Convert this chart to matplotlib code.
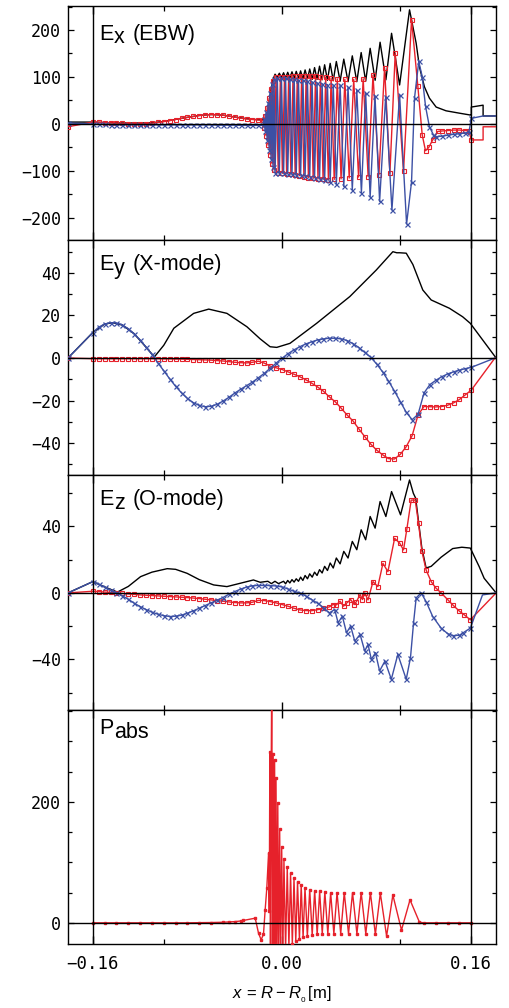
import numpy as np
import matplotlib
matplotlib.use("Agg")
import matplotlib.pyplot as plt
from matplotlib.ticker import FixedLocator, MultipleLocator

plt.rcParams['font.family'] = ['Liberation Sans', 'DejaVu Sans']
plt.rcParams['mathtext.fontset'] = 'custom'
plt.rcParams['mathtext.rm'] = 'Liberation Sans'
plt.rcParams['mathtext.it'] = 'Liberation Sans:italic'

RED = '#E6212B'
BLUE = '#3C50A5'

# ---------------- Panel 1 : Ex (EBW) ----------------
ex_abs_x = [-0.181, -0.160, -0.150, -0.140, -0.130, -0.120, -0.110, -0.100, -0.090, -0.080, -0.070, -0.060,
            -0.050, -0.040, -0.030, -0.020, -0.0160, -0.0129, -0.0110, -0.0093, -0.0076,
            -0.0059, -0.0041, -0.0023, -0.0005, 0.0013, 0.0030, 0.0048, 0.0066, 0.0084, 0.0102,
            0.0120, 0.0139, 0.0157, 0.0176, 0.0195, 0.0215, 0.0234, 0.0255, 0.0275, 0.0296,
            0.0317, 0.0339, 0.0360, 0.0384, 0.0407, 0.0433, 0.0459, 0.0491, 0.0522, 0.0558,
            0.0594, 0.0632, 0.0669, 0.0707, 0.0745, 0.0787, 0.0829, 0.0878, 0.0926, 0.0994, 0.1078,
            0.1134, 0.1162, 0.1204, 0.1246, 0.1303, 0.1387, 0.1499, 0.1592, 0.1600, 0.1600, 0.1700, 0.1700, 0.1810]
ex_abs_y = [4, 4, 3, 2.3, 2, 2, 2.5, 5.4, 9.7, 14.1, 18.1, 20.1, 18.8, 14.8, 11.2, 9, 9, 15, 45, 75, 95,
            106, 99, 108, 99, 109, 98, 110, 98, 111, 97,
            112, 97, 113, 96, 115, 96, 117, 95, 120, 95,
            123, 94, 126, 93, 129, 92, 133, 91, 138, 90,
            145, 90, 152, 91, 161, 93, 174, 94, 193, 83, 243,
            172, 121, 79, 55, 36, 28, 23, 19, 19, 36, 40, 17, 17]

ex_re_x = [-0.181, -0.160, -0.155, -0.150, -0.145, -0.140, -0.135, -0.130, -0.125, -0.120, -0.115, -0.110,
           -0.105, -0.100, -0.095, -0.090, -0.085, -0.080, -0.075, -0.070, -0.065, -0.060, -0.055, -0.050,
           -0.045, -0.040, -0.035, -0.030, -0.025, -0.020,
           -0.0160, -0.0152, -0.0143, -0.0135, -0.0126, -0.0118, -0.0109, -0.0101, -0.0093, -0.0084, -0.0076, -0.0067,
           -0.0051, -0.0032, -0.0014, 0.0003, 0.0021, 0.0039, 0.0056, 0.0075, 0.0093, 0.0111,
           0.0129, 0.0147, 0.0166, 0.0185, 0.0204, 0.0223, 0.0243, 0.0263, 0.0283, 0.0304,
           0.0325, 0.0347, 0.0369, 0.0392, 0.0415, 0.0441, 0.0467, 0.0499, 0.0531, 0.0568,
           0.0606, 0.0647, 0.0686, 0.0728, 0.0769, 0.0819, 0.0867, 0.0912, 0.0957, 0.1027, 0.1095,
           0.1148, 0.1185, 0.1213, 0.1240, 0.1274, 0.1316, 0.135, 0.140, 0.145, 0.150, 0.155, 0.158,
           0.160, 0.170, 0.170, 0.181]
ex_re_y = [-6, 4, 3.5, 3, 2.5, 2, 1.3, 0.8, 0.4, 0.3, 0.8, 1.8, 3.2, 5, 7, 9.5, 12, 14, 16, 18, 19.3, 20,
           19.8, 18.7, 16.8, 14.5, 12.5, 10.8, 9.5, 8.5,
           8, -8, 18, -25, 35, -45, 55, -65, 75, -85, 92, -98,
           100, -104, 100, -105, 101, -106, 101, -107, 102, -108,
           102, -110, 103, -112, 103, -114, 103, -116, 102, -117,
           101, -118, 100, -119, 98, -118, 96, -117, 95, -115,
           95, -113, 96, -112, 104, -108, 119, -105, 151, -101, 222,
           81, -23, -57, -50, -34, -16, -15, -14, -13, -13, -14, -15,
           -34, -34, -6, -6]

ex_im_x = [-0.181, -0.160, -0.155, -0.150, -0.145, -0.140, -0.135, -0.130, -0.125, -0.120, -0.115, -0.110,
           -0.105, -0.100, -0.095, -0.090, -0.085, -0.080, -0.075, -0.070, -0.065, -0.060, -0.055, -0.050,
           -0.045, -0.040, -0.035, -0.030, -0.025, -0.020,
           -0.0160, -0.0152, -0.0143, -0.0135, -0.0126, -0.0118, -0.0109, -0.0101, -0.0093, -0.0084, -0.0076, -0.0067,
           -0.0059, -0.0040, -0.0023, -0.0005, 0.0013, 0.0030, 0.0048, 0.0067, 0.0084, 0.0103,
           0.0120, 0.0139, 0.0157, 0.0177, 0.0195, 0.0215, 0.0234, 0.0254, 0.0275, 0.0296,
           0.0317, 0.0339, 0.0360, 0.0384, 0.0407, 0.0433, 0.0459, 0.0491, 0.0522, 0.0558,
           0.0594, 0.0632, 0.0671, 0.0707, 0.0745, 0.0786, 0.0825, 0.0876, 0.0929, 0.0994, 0.1053,
           0.1095, 0.1120, 0.1156, 0.1185, 0.1213, 0.1246, 0.1280, 0.1305, 0.135, 0.140, 0.145, 0.150,
           0.155, 0.158, 0.160, 0.170, 0.181]
ex_im_y = [2, 0, -0.5, -1, -1.5, -1.8, -2, -2, -2, -2, -2, -2, -2, -2, -2, -2, -2, -2, -2, -2, -2, -2,
           -2.5, -2.5, -2.5, -2.5, -3, -3, -3, -3,
           -3, 10, -15, 25, -35, 45, -55, 65, -75, 85, -92, 96,
           -104, 98, -104, 98, -105, 97, -106, 96, -107, 95,
           -108, 94, -109, 93, -110, 92, -112, 90, -114, 88,
           -117, 86, -120, 84, -124, 83, -128, 83, -133, 78,
           -140, 72, -146, 65, -155, 60, -165, 58, -183, 62, -213,
           -123, 55, 133, 101, 38, -6, -23, -27, -26, -24, -22, -21,
           -19, -18, 12, 17, 17]

# ---------------- Panel 2 : Ey (X-mode) ----------------
grid_x = [-0.181] + list(np.round(np.arange(-0.160, 0.16001, 0.005), 3)) + [0.180]
ey_re_y = [0,
           -0.3, -0.3, -0.3, -0.3, -0.3, -0.3, -0.3, -0.3, -0.3, -0.3, -0.3, -0.3,
           -0.4, -0.4, -0.5, -0.5, -0.6, -0.7, -0.8, -0.9, -1.0, -1.2, -1.4, -1.7,
           -2.0, -2.2, -2.3, -2.0, -1.5, -2.4, -3.8, -4.6, -5.4, -6.5, -7.6, -8.8,
           -10.2, -11.8, -13.6, -15.6, -18.3, -20.6, -23.6, -26.8, -29.6, -33.4, -37.0, -40.5,
           -43.3, -45.5, -47.3, -47.5, -45.3, -41.7, -36.5, -26.8, -22.8, -22.9, -23.0, -22.8,
           -22.2, -21.1, -19.5, -17.3, -15.1,
           0]
ey_im_y = [0,
           12.0, 14.5, 16.0, 16.6, 16.5, 15.5, 13.8, 11.4, 8.5, 5.1, 1.7, -2.3,
           -6.0, -9.8, -13.3, -16.4, -19.0, -21.0, -22.3, -22.9, -22.7, -21.8, -20.3, -18.5,
           -16.5, -14.7, -13.0, -11.3, -9.3, -7.2, -4.8, -2.4, -0.1, 2.0, 3.8, 5.3,
           6.6, 7.6, 8.5, 9.0, 9.3, 9.3, 9.0, 8.2, 6.8, 4.9, 2.6, 0.3,
           -2.8, -6.5, -10.8, -15.5, -20.5, -25.5, -29.0, -26.5, -16.5, -12.5, -10.5, -8.8,
           -7.5, -6.5, -5.7, -5.0, -4.4,
           0]
ey_abs_x = [-0.181, -0.160, -0.150, -0.143, -0.135, -0.125, -0.115, -0.108, -0.100, -0.0915,
            -0.0747, -0.062, -0.0466, -0.0297, -0.0185, -0.0101, -0.0045, 0.0067, 0.0292, 0.0573,
            0.0797, 0.0880, 0.0937, 0.0970, 0.0994, 0.1050, 0.1106, 0.1190, 0.1261, 0.1415,
            0.1527, 0.1592, 0.1810]
ey_abs_y = [0, 12, 16, 16.6, 15.5, 11.4, 5.1, 0.5, 6.0, 14,
            21, 23, 21, 14.7, 9, 5.3, 5.0, 6.9, 16.3, 28.9,
            41.4, 46.5, 50, 49.5, 49.5, 49.3, 44, 32, 27.3, 23.4,
            19.4, 16.3, 0]

# ---------------- Panel 3 : Ez (O-mode) ----------------
ez_re_x = [-0.181] + list(np.round(np.arange(-0.160, 0.04001, 0.005), 3)) + [
    0.043, 0.046, 0.049, 0.052, 0.0545, 0.058, 0.061, 0.0629, 0.066, 0.068, 0.0699, 0.0727,
    0.0769, 0.081, 0.0853, 0.0895, 0.0952, 0.0994, 0.1027, 0.1055, 0.1092, 0.1126, 0.1154,
    0.1182, 0.1218, 0.1261, 0.1300, 0.1345, 0.1400, 0.1443, 0.1500, 0.1541, 0.1592, 0.1810]
ez_re_y = [0,
           1.0, 0.8, 0.5, 0.3, 0.0, -0.3, -0.6, -0.9, -1.2, -1.4, -1.6, -1.8, -2.0, -2.2, -2.4,
           -2.6, -2.8, -3.1, -3.4, -3.8, -4.2, -4.6, -5.0, -5.4, -5.8, -6.0, -6.0, -5.6, -4.5,
           -4.6, -5.2, -6.0, -7.0, -8.0, -9.2, -10.2, -10.6, -10.7, -10.1, -9.3, -8.4,
           -7.0, -7.2, -5.0, -8.0, -6.2, -4.0, -7.0, -5.2, -1.0, -4.0, 0.0, -4.2,
           6.8, 3.8, 17.8, 12.8, 32.9, 30.0, 25.9, 38.3, 55.9, 55.9, 41.9,
           25.3, 13.8, 6.8, 3.0, 0.0, -4.0, -7.2, -11.0, -13.2, -16.2, 0]
ez_im_x = [-0.181] + list(np.round(np.arange(-0.160, 0.04001, 0.005), 3)) + [
    0.0445, 0.0474, 0.0510, 0.0545, 0.0580, 0.0615, 0.0660, 0.0699, 0.0727, 0.0755, 0.0790,
    0.0825, 0.0870, 0.0924, 0.0979, 0.1050, 0.1086, 0.1112, 0.1134, 0.1176, 0.1218, 0.1274,
    0.1345, 0.1400, 0.1443, 0.1500, 0.1527, 0.1592, 0.1695, 0.1810]
ez_im_y = [0,
           6.8, 5.2, 3.5, 1.7, 0.2, -1.8, -3.8, -6.2, -8.2, -10.0, -11.6, -12.8, -13.7, -14.2,
           -14.0, -13.4, -12.2, -10.8, -9.2, -7.6, -6.0, -4.4, -2.8, -0.8, 0.8, 2.3, 3.5, 4.3,
           4.5, 4.5, 4.4, 4.2, 3.6, 2.4, 1.0, 0.0, -1.8, -4.0, -6.2, -8.8, -12.0,
           -10, -18, -14, -24, -20, -29, -25, -35, -31, -40, -36,
           -47, -41, -52, -37, -52, -39, -18, -3, 0, -5.2, -14.2,
           -21.2, -24.5, -25.7, -25.5, -24.2, -21.2, -1.2, 0]
ez_abs_x = [-0.181, -0.160, -0.150, -0.1392, -0.130, -0.1196, -0.110, -0.0971, -0.090, -0.0803,
            -0.070, -0.0578, -0.0466, -0.0354, -0.0242, -0.0185, -0.0120, -0.0090, -0.0060, -0.0030,
            0.0013, 0.0030, 0.0048, 0.0066, 0.0084, 0.0102, 0.0120, 0.0139, 0.0157, 0.0176,
            0.0195, 0.0215, 0.0234, 0.0255, 0.0275, 0.0296, 0.0317, 0.0339, 0.0360, 0.0384,
            0.0407, 0.0433, 0.0459, 0.0491, 0.0522, 0.0558, 0.0594, 0.0632, 0.0669, 0.0707,
            0.0745, 0.0787, 0.0829, 0.0878, 0.0926, 0.1002, 0.1078,
            0.1110, 0.1130, 0.1154, 0.1182, 0.1218, 0.1261, 0.1345, 0.1443, 0.1520, 0.1592,
            0.1667, 0.1709, 0.1810]
ez_abs_y = [0, 6.8, 3.6, 0.5, 3.9, 9.8, 12.5, 14.6, 14.2, 11.8,
            8.0, 4.8, 3.8, 5.8, 7.8, 6.4, 7.0, 5.6, 7.0, 5.6,
            7.0, 5.5, 7.5, 6.0, 8.0, 6.5, 8.5, 7.0, 9.5, 7.5,
            10.5, 8.5, 11.5, 9.5, 12.5, 10.5, 14, 12, 16, 13.5,
            18, 15, 21, 17.5, 25, 21, 31, 26, 38, 32,
            46, 39, 55, 46, 61, 47, 68,
            60, 57, 43, 27, 15, 16, 21.5, 26.7, 27.5, 27,
            15.8, 8.8, 0]

# ---------------- Panel 4 : Pabs ----------------
pabs_x = [-0.160, -0.150, -0.140, -0.130, -0.120, -0.110, -0.100, -0.090, -0.080, -0.070, -0.060,
          -0.050, -0.045, -0.040, -0.035, -0.0326, -0.0227,
          -0.0199, -0.0177, -0.0157, -0.0143, -0.0129, -0.0114, -0.0108, -0.0103, -0.0098, -0.0093,
          -0.0087, -0.0081, -0.0075, -0.0069, -0.0063, -0.0057, -0.0051, -0.0044, -0.0036, -0.0029,
          -0.0020, -0.0012, -0.0003, 0.0007,
          0.0016, 0.0030, 0.0044, 0.0058, 0.0072, 0.0087, 0.0101, 0.0116, 0.0131, 0.0147,
          0.0162, 0.0178, 0.0194, 0.0214, 0.0234, 0.0255, 0.0276, 0.0297, 0.0318, 0.0340,
          0.0362, 0.0387, 0.0411, 0.0438, 0.0465, 0.0496, 0.0526, 0.0562, 0.0596, 0.0633,
          0.0669, 0.0708, 0.0747, 0.0789, 0.0831, 0.0884, 0.0937, 0.1010, 0.1082,
          0.1162, 0.1200, 0.1300, 0.1400, 0.1500, 0.1600]
pabs_y = [0, 0, 0, 0, 0, 0, 0, 0, 0, 0.3, 0.5,
          1.0, 1.5, 2.0, 3, 4, 7.7,
          -17, -28, -19, 21, 57, 115, 20, 283, -60, 200,
          420, -60, 280, -60, 270, -60, 240, -60, 198, -60,
          155, -60, 125, -50,
          105, -45, 92, -40, 82, -35, 74, -30, 68, -27,
          62, -24, 58, -22, 55, -20, 53, -19, 52, -18,
          51, -18, 50, -18, 50, -18, 50, -18, 50, -18,
          50, -18, 50, -19, 49, -22, 46, -12, 38,
          1, 0, 0, 0, 0, 0]

# ---------------- Figure ----------------
fig = plt.figure(figsize=(5.10, 10.08), dpi=100)
left, width = 0.1333, 0.8383
bottoms = [0.7619, 0.5288, 0.2956, 0.0635]
heights = [0.2321, 0.2331, 0.2332, 0.2321]
axes = [fig.add_axes([left, b, width, h]) for b, h in zip(bottoms, heights)]

ylims = [(-247, 251), (-55, 55.5), (-70.5, 71), (-35, 352)]
ymajor = [[-200, -100, 0, 100, 200], [-40, -20, 0, 20, 40], [-40, 0, 40], [0, 200]]
yminor = [50, 10, 20, 50]

for i, ax in enumerate(axes):
    ax.set_xlim(-0.181, 0.1805)
    ax.set_ylim(*ylims[i])
    ax.xaxis.set_major_locator(FixedLocator([-0.16, 0.0, 0.16]))
    ax.xaxis.set_minor_locator(FixedLocator([-0.10, 0.10]))
    ax.yaxis.set_major_locator(FixedLocator(ymajor[i]))
    ax.yaxis.set_minor_locator(MultipleLocator(yminor[i]))
    ax.tick_params(axis='x', which='major', direction='in', top=True, bottom=True,
                   length=5.8, width=1.0)
    ax.tick_params(axis='x', which='minor', direction='in', top=True, bottom=True,
                   length=3.8, width=0.9)
    ax.tick_params(axis='y', which='major', direction='in', left=True, right=True,
                   length=4.2, width=0.9, labelsize=12, pad=5,
                   labelfontfamily='DejaVu Sans Mono')
    ax.tick_params(axis='y', which='minor', direction='in', left=True, right=True,
                   length=3.1, width=0.9)
    for sp in ax.spines.values():
        sp.set_linewidth(1.0)
    ax.axhline(0, color='k', lw=1.0, zorder=5)
    ax.axvline(-0.16, color='k', lw=1.0, zorder=5)
    ax.axvline(0.16, color='k', lw=1.0, zorder=5)
    if i < 3:
        ax.tick_params(axis='x', labelbottom=False)

mk_re = dict(color=RED, lw=1.0, marker='s', ms=3.4, mfc='none', mec=RED, mew=0.8)
mk_im = dict(color=BLUE, lw=1.0, marker='x', ms=3.6, mec=BLUE, mew=0.9)

# Panel 1
ax = axes[0]
ax.plot(ex_abs_x, ex_abs_y, color='k', lw=1.0, zorder=2)
ax.plot(ex_re_x, ex_re_y, markevery=slice(0, len(ex_re_x) - 3), zorder=3, **mk_re)
ax.plot(ex_im_x, ex_im_y, markevery=slice(0, len(ex_im_x) - 2), zorder=4, **mk_im)

# Panel 2
ax = axes[1]
ax.plot(ey_abs_x, ey_abs_y, color='k', lw=1.0, zorder=2)
ax.plot(grid_x, ey_re_y, markevery=slice(0, len(grid_x) - 1), zorder=3, **mk_re)
ax.plot(grid_x, ey_im_y, markevery=slice(0, len(grid_x) - 1), zorder=4, **mk_im)

# Panel 3
ax = axes[2]
ax.plot(ez_abs_x, ez_abs_y, color='k', lw=1.0, zorder=2)
ax.plot(ez_re_x, ez_re_y, markevery=slice(0, len(ez_re_x) - 1), zorder=3, **mk_re)
ax.plot(ez_im_x, ez_im_y, markevery=slice(0, len(ez_im_x) - 2), zorder=4, **mk_im)

# Panel 4
ax = axes[3]
ax.plot(pabs_x, pabs_y, color=RED, lw=1.0, marker='s', ms=1.8, mfc=RED, mec=RED, zorder=3)
ax.set_xticklabels(['\u22120.16', '0.00', '0.16'], fontfamily='DejaVu Sans Mono', fontsize=12.5)
ax.tick_params(axis='x', which='major', pad=8)
ax.set_xlabel(r'$x\,=\,R - R_{\mathregular{_0}}\,$[m]', fontsize=12, labelpad=8)


def panel_label(ax, y, main, sub, rest):
    t1 = ax.text(0.074, y, main, transform=ax.transAxes, fontsize=15.5, va='bottom', ha='left')
    t2 = ax.annotate(sub, xy=(1, 0), xycoords=t1, xytext=(0, -2.5), textcoords='offset points',
                     fontsize=15.5, va='bottom', ha='left')
    if rest:
        ax.annotate(rest, xy=(1, 0), xycoords=t2, xytext=(5.5, 2.5), textcoords='offset points',
                    fontsize=15.5, va='bottom', ha='left')


panel_label(axes[0], 0.835, 'E', 'x', '(EBW)')
panel_label(axes[1], 0.85, 'E', 'y', '(X-mode)')
panel_label(axes[2], 0.85, 'E', 'z', '(O-mode)')
panel_label(axes[3], 0.875, 'P', 'abs', '')

fig.savefig('out.png', dpi=100)
